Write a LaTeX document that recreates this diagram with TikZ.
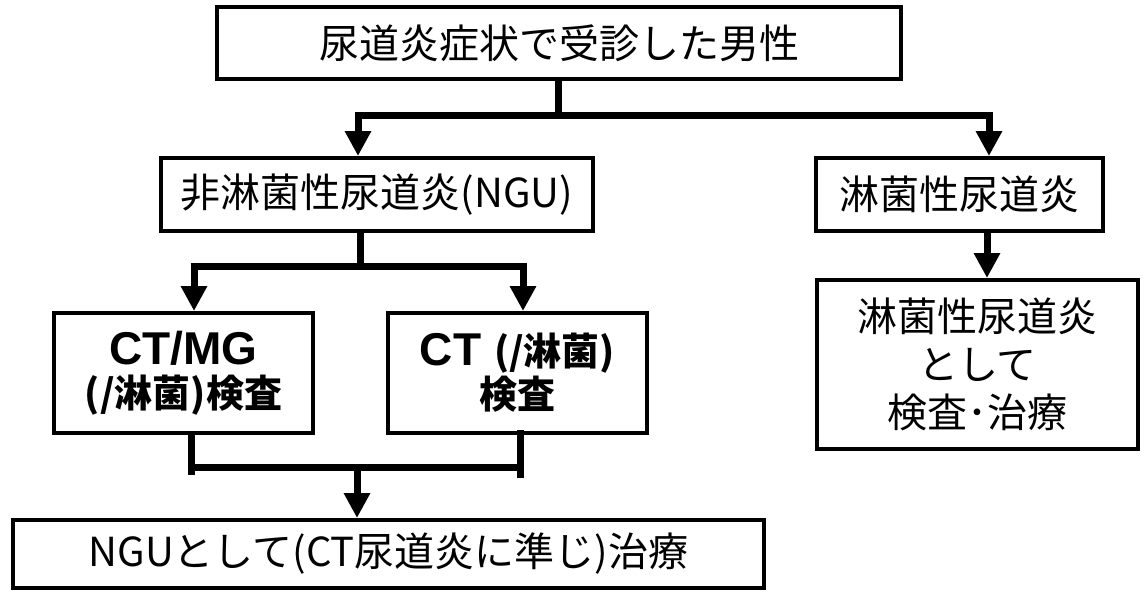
\documentclass[tikz,border=0pt]{standalone}
\usepackage{fontspec}
\usetikzlibrary{arrows.meta}
\newfontfamily\jp{Noto Sans CJK JP}
\newfontfamily\lsb{Liberation Sans}
\tikzset{
  box/.style={draw=black, line width=4pt, fill=white, inner sep=0pt, align=center,
    font=\jp\fontsize{40}{48}\selectfont},
  boldbox/.style={box, font=\jp\bfseries\fontsize{38}{43}\selectfont},
  stem/.style={line width=7pt, draw=black},
  arr/.style={stem, -{Triangle[width=25pt,length=25pt]}},
}
\begin{document}
\begin{tikzpicture}[x=1pt,y=-1pt]
\useasboundingbox (0,0) rectangle (1144,592);
\node[box, minimum width=684pt, minimum height=72pt] (top) at (559,43) {尿道炎症状で受診した男性};
\node[box, minimum width=432pt, minimum height=73pt] (ngu) at (377,194.5) {非淋菌性尿道炎(NGU)};
\node[box, minimum width=287pt, minimum height=73pt] (gon) at (959.5,194.5) {淋菌性尿道炎};
\node[box, minimum width=321pt, minimum height=169pt] (gon2) at (977.5,364.5) {淋菌性尿道炎\\として\\検査･治療};
\node[boldbox, minimum width=259pt, minimum height=120pt] (ctmg) at (183.5,373) {{\lsb\bfseries\fontsize{46}{43}\selectfont CT/MG}\\(/淋菌)検査};
\node[boldbox, minimum width=259pt, minimum height=120pt] (ct) at (517.5,373) {{\lsb\bfseries\fontsize{46}{43}\selectfont CT }(/淋菌)\\検査};
\node[box, minimum width=751pt, minimum height=68pt] (bot) at (388.5,554) {NGUとして(CT尿道炎に準じ)治療};
% top split
\coordinate (barL) at (358,115);
\coordinate (barR) at (989,115);
\draw[stem] ([xshift=-1pt]top.south) -- ([xshift=-1pt]top.south |- barL);
\draw[stem] ([xshift=-3.5pt]barL) -- ([xshift=3.5pt]barR);
\draw[arr] (barL) -- (barL |- ngu.north);
\draw[arr] (barR) -- (barR |- gon.north);
% NGU split
\coordinate (b2L) at (194,266);
\coordinate (b2R) at (523,266);
\draw[stem] ([xshift=-17pt]ngu.south) -- ([xshift=-17pt]ngu.south |- b2L);
\draw[stem] ([xshift=-3.5pt]b2L) -- ([xshift=3.5pt]b2R);
\draw[arr] (b2L) -- (b2L |- ctmg.north);
\draw[arr] (b2R) -- (b2R |- ct.north);
% gonococcal
\draw[arr] ([xshift=27.5pt,yshift=3pt]gon.south) -- ([xshift=27.5pt]gon.south |- gon2.north);
% merge
\coordinate (b3L) at (191,467);
\coordinate (b3R) at (520,467);
\coordinate (b3M) at (357,467);
\coordinate (b3Le) at (191,475);
\coordinate (b3Re) at (520,478);
\draw[stem] (b3L |- ctmg.south) -- (b3Le);
\draw[stem] ([yshift=5pt]b3R |- ct.south) -- (b3Re);
\draw[stem] ([xshift=-3.5pt]b3L) -- ([xshift=3.5pt]b3R);
\draw[arr] (b3M) -- (b3M |- bot.north);
\end{tikzpicture}
\end{document}
